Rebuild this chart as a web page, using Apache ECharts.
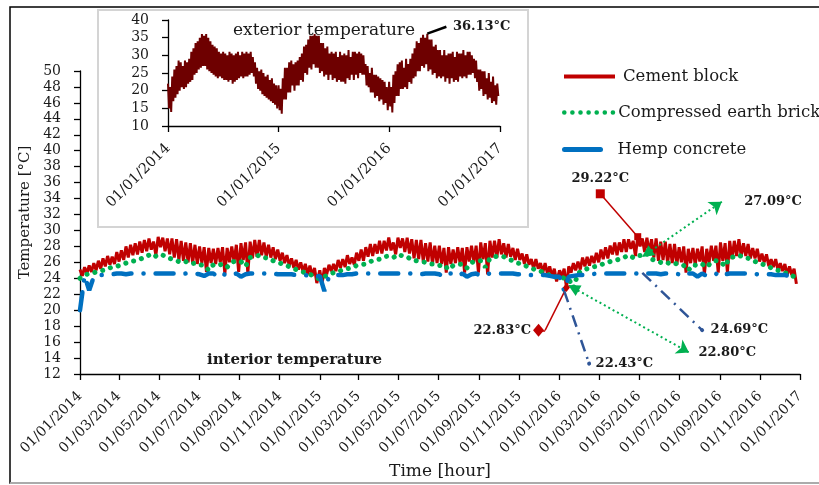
<!DOCTYPE html>
<html>
<head>
<meta charset="utf-8">
<script src="https://cdn.jsdelivr.net/npm/echarts@6/dist/echarts.min.js"></script>
<style>html,body{margin:0;padding:0;background:#fff;}#c{width:819px;height:485px;}</style>
</head>
<body>
<div id="c"></div>
<script>
// ---------- DATA (weekly readings from Jan 1 of each year; Hi = weekly upper reading, Lo = mid-week lower reading) ----------
const YEARS = [2014, 2015, 2016];
const cementHi2014 = [25.1,25.4,25.6,25.9,26.2,26.5,26.8,26.7,27.3,27.5,28.0,28.2,28.4,28.6,28.8,29.0,28.6,29.2,29.1,29.0,29.0,28.9,28.7,28.5,28.4,28.2,28.0,27.9,27.8,27.7,27.8,27.9,27.8,28.0,28.2,28.4,28.5,28.6,28.8,28.8,28.5,28.2,27.9,27.6,27.2,26.9,26.5,26.3,26.0,25.8,25.6,25.3];
const cementLo2014 = [24.3,24.6,24.8,25.0,25.2,25.5,25.7,25.8,26.1,26.3,26.6,26.9,27.0,27.2,27.4,27.6,26.9,27.9,27.4,27.0,26.6,26.3,26.2,26.0,25.9,25.8,25.9,24.8,25.9,25.8,26.0,24.6,26.0,26.1,24.8,26.3,24.6,26.5,26.7,26.9,26.7,26.6,26.4,26.2,25.9,25.6,25.3,25.1,24.8,24.5,24.3,23.4];
const cementHi2015 = [25.0,25.3,25.7,25.8,26.3,26.4,26.9,26.6,27.2,27.6,27.9,28.3,28.3,28.7,28.7,29.1,28.5,29.1,29.0,29.1,28.9,28.8,28.8,28.4,28.5,28.1,28.1,27.8,27.9,27.6,27.9,27.8,27.9,28.1,28.1,28.5,28.4,28.7,28.7,28.9,28.4,28.3,27.8,27.7,27.1,27.0,26.4,26.4,25.9,25.9,25.5,25.2];
const cementLo2015 = [23.3,24.5,24.9,24.9,25.3,25.4,25.8,25.7,26.2,26.2,26.7,26.8,27.1,27.1,27.5,27.5,27.0,27.8,27.3,27.1,26.5,26.4,26.1,26.1,25.8,25.9,25.8,24.7,25.8,25.9,25.9,24.7,26.1,26.0,24.7,26.4,24.5,26.6,26.6,27.0,26.6,26.7,26.3,26.3,25.8,25.7,25.2,25.2,24.7,24.6,24.2,23.6];
const cementHi2016 = [25.0,25.2,25.5,25.9,26.1,26.6,26.7,26.8,27.2,27.6,27.9,28.1,28.5,28.5,28.9,28.9,28.7,29.22,29.0,29.1,28.9,29.0,28.6,28.6,28.3,28.3,27.9,28.0,27.7,27.8,27.7,28.0,27.7,28.1,28.1,28.5,28.4,28.7,28.7,28.9,28.4,28.3,27.8,27.7,27.1,27.0,26.4,26.4,25.9,25.8,25.5,25.2];
const cementLo2016 = [24.2,22.83,24.7,25.0,25.1,25.5,25.6,25.9,26.0,26.4,26.5,27.0,26.9,27.3,27.3,27.7,26.8,28.0,27.3,27.1,26.6,26.2,26.3,25.9,25.9,25.7,26.0,24.7,25.9,25.7,26.1,24.5,25.9,26.2,24.7,26.2,24.7,26.4,26.8,26.8,26.8,26.5,26.5,26.1,26.0,25.5,25.4,25.0,24.9,24.4,24.4,23.3];

const earth2014 = [24.0,24.4,24.6,24.7,24.9,25.0,25.2,25.4,25.5,25.7,25.9,26.1,26.2,26.4,26.6,26.9,26.6,27.0,26.9,26.6,26.4,26.2,26.0,26.1,25.8,25.9,25.7,25.6,25.0,25.7,25.6,25.8,25.4,26.0,26.2,26.1,25.5,26.6,26.7,26.9,26.6,26.5,26.2,26.0,25.8,25.6,25.3,25.1,24.9,24.7,24.5,24.2];
const earth2015 = [23.9,24.2,24.5,24.7,24.8,25.1,25.2,25.3,25.6,25.7,25.8,26.1,26.3,26.4,26.7,26.8,26.6,27.0,26.8,26.7,26.3,26.2,26.1,26.0,25.8,25.8,25.6,25.7,25.1,25.6,25.7,25.8,25.3,26.0,26.1,26.2,25.4,26.5,26.7,26.8,26.7,26.4,26.2,25.9,25.8,25.5,25.3,25.0,24.9,24.6,24.4,24.1];
const earth2016 = [24.3,24.0,23.9,22.80,24.6,25.0,25.2,25.4,25.5,25.7,25.9,26.1,26.2,26.4,26.6,26.9,26.6,26.9,26.8,27.09,26.4,26.2,26.0,26.1,25.8,25.9,25.7,25.6,25.0,25.7,25.6,25.8,25.4,26.0,26.2,26.1,25.5,26.6,26.7,26.9,26.6,26.5,26.2,26.0,25.8,25.6,25.3,25.1,24.9,24.7,24.5,24.2];

const hemp2014 = [20.0,24.3,22.5,24.2,24.4,24.4,24.5,24.5,24.6,24.6,24.5,24.6,24.6,24.6,24.6,24.6,24.6,24.6,24.6,24.6,24.6,24.6,24.5,24.6,24.6,24.6,24.5,24.3,24.6,24.6,24.2,24.6,24.3,24.5,24.6,24.2,24.5,24.6,24.6,24.6,24.6,24.6,24.6,24.5,24.5,24.5,24.5,24.4,24.4,24.4,24.3,24.2];
const hemp2015 = [24.3,22.4,24.2,24.3,24.4,24.4,24.5,24.5,24.6,24.6,24.6,24.6,24.6,24.6,24.6,24.6,24.6,24.6,24.6,24.6,24.6,24.6,24.5,24.6,24.6,24.6,24.5,24.2,24.6,24.6,24.3,24.6,24.2,24.5,24.6,24.3,24.5,24.6,24.6,24.6,24.6,24.6,24.6,24.5,24.5,24.5,24.4,24.4,24.4,24.4,24.3,24.2];
const hemp2016 = [24.2,22.43,24.2,24.3,24.4,24.4,24.5,24.5,24.6,24.6,24.6,24.6,24.6,24.6,24.6,24.6,24.6,24.6,24.69,24.6,24.6,24.6,24.5,24.6,24.6,24.6,24.5,24.3,24.6,24.6,24.2,24.6,24.3,24.5,24.6,24.2,24.5,24.6,24.6,24.6,24.6,24.6,24.6,24.5,24.5,24.5,24.5,24.4,24.4,24.4,24.3,24.2];

const extHi2014 = [22,21,24,26,27,28.5,28,27,28.5,28,29,31,32,33.5,34,35,36,35.5,36,35,34,33,32.5,32,31,30.5,31,30.5,30,31,30.5,30,30.5,31,30,31,30.5,31,30.5,31,29.5,28,26.5,25.5,26,25,24,24.5,23,23.5,22,21.5];
const extLo2014 = [15,14,17,18,19,20,21,20.5,21,22,22.5,23,24.5,25,26,26.5,27,27,26,25.5,25,24.5,24,23.5,24,23.5,23,23,22.5,23,22,22.5,23,23.5,24,23.5,24,24,24.5,25,24,22,20.5,20,19,18.5,18,17.5,17,16.5,16,15];
const extHi2015 = [21.5,20.5,23.5,26.5,26.5,28,28.5,27.5,28,28.5,29.5,30.5,32.5,33,34.5,35.5,35.5,36,35.5,35.5,33.5,33.5,32,32.5,30.5,31,30.5,31,29.5,31,30,30.5,30,31.5,29.5,31,31,30.5,31,30.5,30,27.5,27,25,26.5,24.5,24.5,24,23.5,23,22.5,21];
const extLo2015 = [14.5,13.5,17.5,17.5,19.5,19.5,21.5,20,21.5,21.5,23,22.5,25,24.5,26.5,26,27.5,26.5,26.5,25,25.5,24,24.5,23,24.5,23,23.5,22.5,23,22.5,22.5,22,23.5,23,24.5,23,24.5,23.5,25,24.5,24.5,21.5,21,19.5,19.5,18,18.5,17,17.5,16,16.5,14.5];
const extHi2016 = [22.5,21,24.5,25.5,27.5,28,28.5,26.5,29,27.5,29,30.5,32,34,33.5,35,35.8,35,36.13,34.5,34.5,32.5,33,31.5,31.5,30,31.5,30,30.5,30.5,31,29.5,31,30.5,30.5,31.5,30,31,31,30,29,28.5,26,26,25.5,25.5,23.5,25,22.5,24,21.5,22];
const extLo2016 = [15.5,13.8,16.5,18.5,18.5,20.5,20.5,21,20.5,22.5,22,23.5,24,25.5,25.5,27,26.5,27.5,25.5,26,24.5,25,23.5,24,23.5,24,22.5,23.5,22,23.5,22.5,23,22.5,24,23.5,24,23.5,24.5,24.5,25,23.5,22.5,20,20.5,18.5,19,17.5,18,16.5,17,16,18.5];

// tick label dates (day/month/year)
const mainTickDates = ['01/01/2014','01/03/2014','01/05/2014','01/07/2014','01/09/2014','01/11/2014','01/01/2015','01/03/2015','01/05/2015','01/07/2015','01/09/2015','01/11/2015','01/01/2016','01/03/2016','01/05/2016','01/07/2016','01/09/2016','01/11/2016','01/01/2017'];
const insetTickDates = ['01/01/2014','01/01/2015','01/01/2016','01/01/2017'];

// callout anchors [date, temperature]
const cementMaxLabelAt = ['03/03/2016', 34.6];
const cementMinLabelAt = ['30/11/2015', 17.47];
const cementMinCorner = ['10/12/2015', 17.47];
const earthMaxLabelAt = ['04/09/2016', 33.6];
const earthMinLabelAt = ['16/07/2016', 14.7];
const hempMinLabelAt = ['15/02/2016', 13.3];
const hempMaxLabelAt = ['05/08/2016', 17.5];
const extMaxLabelAt = ['08/07/2016', 38.1];

// ---------- helpers ----------
const FONT = 'DejaVu Serif';
const TXT = '#1a1a1a';
const HALF_WEEK = 3.5 * 86400000;
function parseD(s){ const p = s.split('/'); return Date.UTC(+p[2], +p[1]-1, +p[0]); }
function weekDate(y, w){ return Date.UTC(y, 0, 1 + 7*w); }
function build(arrs){ const out=[]; arrs.forEach((a,i)=>a.forEach((v,w)=>out.push([weekDate(YEARS[i], w), v]))); return out; }
function buildBand(his, los){
  const out=[];
  his.forEach((hi,i)=>hi.forEach((v,w)=>{ out.push([weekDate(YEARS[i], w), v]); out.push([weekDate(YEARS[i], w)+HALF_WEEK, los[i][w]]); }));
  return out;
}
function ext(arr, year, kind, offset){
  let idx = 0;
  arr.forEach((v,i)=>{ if (kind==='max' ? v>arr[idx] : v<arr[idx]) idx=i; });
  return [weekDate(year, idx) + (offset||0), arr[idx]];
}
function pt(a){ return [parseD(a[0]), a[1]]; }
function pad(n){ return (n<10?'0':'')+n; }
function fmtDate(v){ const d=new Date(v); return pad(d.getUTCDate())+'/'+pad(d.getUTCMonth()+1)+'/'+d.getUTCFullYear(); }
const degLabel = v => v.toFixed(2)+'°C';

const cementData = buildBand([cementHi2014, cementHi2015, cementHi2016], [cementLo2014, cementLo2015, cementLo2016]);
const earthData = build([earth2014, earth2015, earth2016]);
const hempData = build([hemp2014, hemp2015, hemp2016]);
const extData = buildBand([extHi2014, extHi2015, extHi2016], [extLo2014, extLo2015, extLo2016]);

const cMax = ext(cementHi2016, 2016, 'max', 0), cMin = ext(cementLo2016, 2016, 'min', HALF_WEEK);
const eMax = ext(earth2016, 2016, 'max'), eMin = ext(earth2016, 2016, 'min');
const hMax = ext(hemp2016, 2016, 'max'), hMin = ext(hemp2016, 2016, 'min');
const xMax = ext(extHi2016, 2016, 'max', 0);

const calloutLabel = (text, pos, dist) => ({show:true, position:pos, distance:dist, formatter:text,
  color:TXT, fontFamily:FONT, fontWeight:'bold', fontSize:13});
const hidden = {color:'rgba(0,0,0,0)'};

const chart = echarts.init(document.getElementById('c'), null, {renderer:'canvas'});
const axisLine = {show:true, lineStyle:{color:'#000', width:1.3}};
const mkTick = (vals, len) => ({show:true, inside:false, length:len, customValues:vals, lineStyle:{color:'#000', width:1.3}});
const yTick = {show:true, inside:false, length:6, lineStyle:{color:'#000', width:1.3}};
const mainTicks = mainTickDates.map(parseD);
const insetTicks = insetTickDates.map(parseD);
const legendBase = {padding:0, itemHeight:16, selectedMode:false, itemStyle:{opacity:0}};

chart.setOption({
  animation:false,
  backgroundColor:'#fff',
  title:[
    {text:'exterior temperature', left:228, top:17, textStyle:{fontFamily:FONT, fontSize:17, fontWeight:'normal', color:TXT}},
    {text:'interior temperature', left:202, top:348, textStyle:{fontFamily:FONT, fontSize:15, fontWeight:'bold', color:TXT}}
  ],
  legend:[
    Object.assign({}, legendBase, {data:['Cement block'], left:562, top:68, itemWidth:51,
     lineStyle:{width:4, color:'#C00000'},
     textStyle:{fontFamily:FONT, fontSize:16.5, color:TXT, padding:[0,0,0,3]}}),
    Object.assign({}, legendBase, {data:['Compressed earth brick'], left:562, top:104, itemWidth:49,
     lineStyle:{width:4.5, color:'#00B050'},
     textStyle:{fontFamily:FONT, fontSize:16.5, color:TXT}}),
    Object.assign({}, legendBase, {data:['Hemp concrete'], left:562, top:141, itemWidth:36,
     lineStyle:{type:'solid', width:5, color:'#0070C0'}, textStyle:{fontFamily:FONT, fontSize:16.5, color:TXT, padding:[0,0,0,12]}})
  ],
  graphic:[
    {type:'rect', z:-10, shape:{x:10, y:7, width:830, height:476}, style:{fill:'none', stroke:'#000', lineWidth:1.5}},
    {type:'line', z:-10, shape:{x1:10, y1:483, x2:819, y2:483}, style:{stroke:'#d0d0d0', lineWidth:1.5}},
    {type:'rect', z:-5, shape:{x:98, y:10, width:430, height:217}, style:{fill:'#fff', stroke:'#d4d4d4', lineWidth:2}}
  ],
  grid:[
    {left:80, top:71, width:720, height:306},
    {left:168, top:20, width:332, height:106}
  ],
  xAxis:[
    {type:'value', gridIndex:0, min:mainTicks[0], max:mainTicks[mainTicks.length-1],
     axisLine, axisTick:mkTick(mainTicks, 6), splitLine:{show:false},
     axisLabel:{customValues:mainTicks, rotate:45, margin:20, fontFamily:FONT, fontSize:14, color:TXT, formatter:fmtDate, hideOverlap:false, showMinLabel:true, showMaxLabel:true},
     name:'Time [hour]', nameLocation:'middle', nameGap:84, nameTextStyle:{fontFamily:FONT, fontSize:17, color:TXT}},
    {type:'value', gridIndex:1, min:insetTicks[0], max:insetTicks[insetTicks.length-1],
     axisLine, axisTick:mkTick(insetTicks, 6), splitLine:{show:false},
     axisLabel:{customValues:insetTicks, rotate:45, margin:20, fontFamily:FONT, fontSize:14.5, color:TXT, formatter:fmtDate, hideOverlap:false, showMinLabel:true, showMaxLabel:true}}
  ],
  yAxis:[
    {type:'value', gridIndex:0, min:12, max:50, interval:2, axisLine, axisTick:yTick, splitLine:{show:false},
     axisLabel:{fontFamily:FONT, fontSize:14, color:TXT, margin:19},
     name:'Temperature [°C]', nameLocation:'middle', nameRotate:90, nameGap:45,
     nameTextStyle:{fontFamily:FONT, fontSize:15, color:TXT, padding:[0,0,0,20]}},
    {type:'value', gridIndex:1, min:10, max:40, interval:5, axisLine, axisTick:yTick, splitLine:{show:false},
     axisLabel:{fontFamily:FONT, fontSize:14, color:TXT, margin:19}}
  ],
  series:[
    {name:'Cement block', type:'line', xAxisIndex:0, yAxisIndex:0, data:cementData, symbol:'none', showSymbol:false, z:2,
     lineStyle:{color:'#C00000', width:3}, itemStyle:{color:'#C00000'},
     markLine:{silent:true, symbol:'none', label:{show:false}, lineStyle:{color:'#C00000', width:1.5, type:'solid'},
       data:[[{coord:pt(cementMaxLabelAt)}, {coord:cMax}],
             [{coord:pt(cementMinLabelAt)}, {coord:pt(cementMinCorner)}],
             [{coord:pt(cementMinCorner)}, {coord:cMin}]]},
     markPoint:{silent:true, data:[
       {coord:pt(cementMaxLabelAt), symbol:'rect', symbolSize:9, itemStyle:{color:'#C00000'}, label:calloutLabel(degLabel(cMax[1]), 'top', 4)},
       {coord:pt(cementMinLabelAt), symbol:'diamond', symbolSize:[11,13], itemStyle:{color:'#C00000'}, label:calloutLabel(degLabel(cMin[1]), 'left', 2)},
       {coord:cMax, symbol:'rect', symbolSize:7, itemStyle:{color:'#C00000'}, label:{show:false}},
       {coord:cMin, symbol:'diamond', symbolSize:[7,9], itemStyle:{color:'#C00000'}, label:{show:false}}
     ]}},
    {name:'Compressed earth brick', type:'line', xAxisIndex:0, yAxisIndex:0, data:earthData, symbol:'none', showSymbol:false, z:3,
     lineStyle:{color:'#00B050', width:5, type:[0.1,8], cap:'round'}, itemStyle:{color:'#00B050'},
     markLine:{silent:true, symbol:['triangle','arrow'], symbolSize:[12,12], label:{show:false},
       lineStyle:{color:'#00B050', width:2, type:[2,3]}, itemStyle:{color:'#00B050'},
       data:[[{coord:eMax}, {coord:pt(earthMaxLabelAt)}], [{coord:eMin}, {coord:pt(earthMinLabelAt)}]]},
     markPoint:{silent:true, data:[
       {coord:pt(earthMaxLabelAt), symbol:'circle', symbolSize:1, itemStyle:hidden, label:calloutLabel(degLabel(eMax[1]), 'right', 22)},
       {coord:pt(earthMinLabelAt), symbol:'circle', symbolSize:1, itemStyle:hidden, label:calloutLabel(degLabel(eMin[1]), 'right', 9)}
     ]}},
    {name:'Hemp concrete', type:'line', xAxisIndex:0, yAxisIndex:0, data:hempData, symbol:'none', showSymbol:false, z:4,
     lineStyle:{color:'#0070C0', width:4.5, type:[18,12,0.1,12], cap:'round'}, itemStyle:{color:'#0070C0'},
     markLine:{silent:true, symbol:['none','circle'], symbolSize:4, label:{show:false},
       lineStyle:{color:'#2F5597', width:2.5, type:[12,6,2,6]}, itemStyle:{color:'#2F5597'},
       data:[[{coord:hMin}, {coord:pt(hempMinLabelAt)}], [{coord:hMax}, {coord:pt(hempMaxLabelAt)}]]},
     markPoint:{silent:true, data:[
       {coord:pt(hempMinLabelAt), symbol:'circle', symbolSize:1, itemStyle:hidden, label:calloutLabel(degLabel(hMin[1]), 'right', 6)},
       {coord:pt(hempMaxLabelAt), symbol:'circle', symbolSize:1, itemStyle:hidden, label:calloutLabel(degLabel(hMax[1]), 'right', 8)}
     ]}},
    {name:'Exterior', type:'line', xAxisIndex:1, yAxisIndex:1, data:extData, symbol:'none', showSymbol:false, z:2,
     lineStyle:{color:'#6E0000', width:2}, itemStyle:{color:'#6E0000'},
     markLine:{silent:true, symbol:'none', label:{show:false}, lineStyle:{color:'#000', width:2.5, type:'solid'},
       data:[[{coord:xMax}, {coord:pt(extMaxLabelAt)}]]},
     markPoint:{silent:true, data:[
       {coord:pt(extMaxLabelAt), symbol:'circle', symbolSize:1, itemStyle:hidden, label:calloutLabel(degLabel(xMax[1]), 'right', 6)}
     ]}}
  ]
});
</script>
</body>
</html>
